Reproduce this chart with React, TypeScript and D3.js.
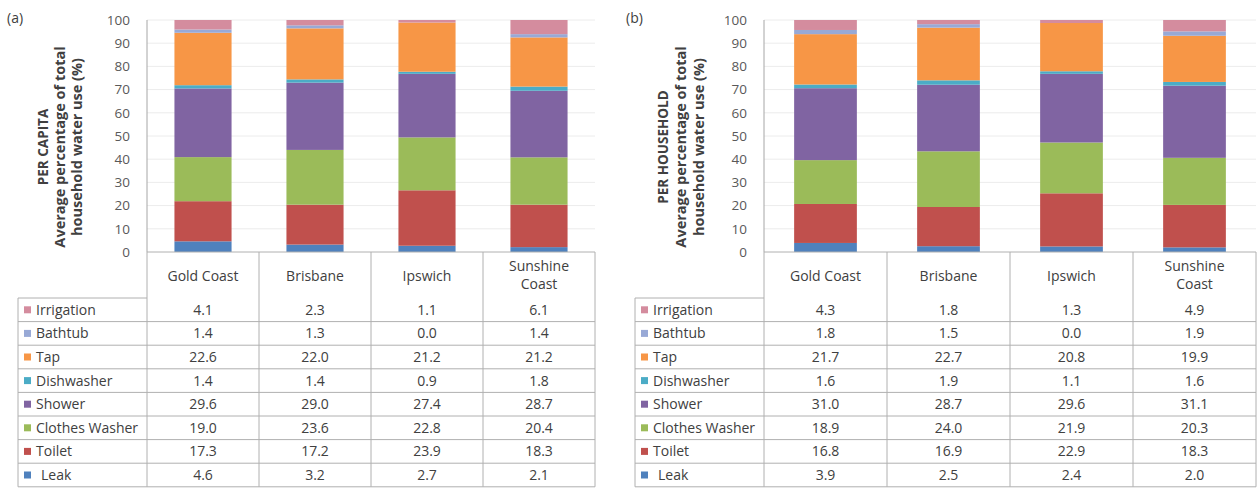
import { useEffect, useRef } from 'react'
import * as d3 from 'd3'

// table order, top to bottom (stack is drawn bottom-up, so reversed)
const seriesNames = ['Irrigation', 'Bathtub', 'Tap', 'Dishwasher', 'Shower', 'Clothes Washer', 'Toilet', 'Leak']
const seriesColors = ['#d48c9e', '#98a9d6', '#f79646', '#4bacc6', '#8064a2', '#9bbb59', '#c0504d', '#4f81bd']
const categories = ['Gold Coast', 'Brisbane', 'Ipswich', 'Sunshine Coast']
const yTicks = [0, 10, 20, 30, 40, 50, 60, 70, 80, 90, 100]

// rows follow seriesNames, columns follow categories
const perCapita = [
  [4.1, 2.3, 1.1, 6.1],
  [1.4, 1.3, 0.0, 1.4],
  [22.6, 22.0, 21.2, 21.2],
  [1.4, 1.4, 0.9, 1.8],
  [29.6, 29.0, 27.4, 28.7],
  [19.0, 23.6, 22.8, 20.4],
  [17.3, 17.2, 23.9, 18.3],
  [4.6, 3.2, 2.7, 2.1],
]

const perHousehold = [
  [4.3, 1.8, 1.3, 4.9],
  [1.8, 1.5, 0.0, 1.9],
  [21.7, 22.7, 20.8, 19.9],
  [1.6, 1.9, 1.1, 1.6],
  [31.0, 28.7, 29.6, 31.1],
  [18.9, 24.0, 21.9, 20.3],
  [16.8, 16.9, 22.9, 18.3],
  [3.9, 2.5, 2.4, 2.0],
]

const FONT = '"Open Sans", Lato, sans-serif'

interface PanelOpts {
  tag: string
  title: string[]
  values: number[][]
  left: number // table label column left edge
  plotLeft: number
  plotRight: number
  tagX: number
  titleX: number[]
}

function drawPanel(svg: d3.Selection<SVGSVGElement, unknown, null, undefined>, o: PanelOpts) {
  const top = 20
  const bottom = 252
  const rowTop = 298
  const rowH = 23.6
  const tableBottom = rowTop + rowH * seriesNames.length
  const textColor = '#404040'

  const g = svg.append('g')

  const y = d3.scaleLinear().domain([0, 100]).range([bottom, top])
  const cols = d3.scaleBand<string>().domain(categories).range([o.plotLeft, o.plotRight])
  const x = d3
    .scaleBand<string>()
    .domain(categories)
    .range([o.plotLeft, o.plotRight])
    .paddingInner(0.49)
    .paddingOuter(0.245)

  // gridlines
  g.append('g')
    .selectAll('line')
    .data(yTicks.slice(1))
    .join('line')
    .attr('x1', o.plotLeft)
    .attr('x2', o.plotRight)
    .attr('y1', d => y(d))
    .attr('y2', d => y(d))
    .attr('stroke', '#ececec')

  g.append('line')
    .attr('x1', o.plotLeft).attr('x2', o.plotLeft)
    .attr('y1', top).attr('y2', bottom)
    .attr('stroke', '#a6a6a6')

  g.append('g')
    .selectAll('text')
    .data(yTicks)
    .join('text')
    .attr('x', o.plotLeft - 17)
    .attr('y', d => y(d))
    .attr('dy', '0.35em')
    .attr('text-anchor', 'end')
    .attr('font-size', 13.5)
    .attr('fill', '#595959')
    .text(d => d)

  // stacked bars
  const keys = [...seriesNames].reverse()
  const rows = categories.map((c, ci) => {
    const r: Record<string, number | string> = { cat: c }
    seriesNames.forEach((s, si) => (r[s] = o.values[si][ci]))
    return r
  })
  const stacked = d3.stack<Record<string, number | string>>().keys(keys)(rows)

  g.append('g')
    .selectAll('g')
    .data(stacked)
    .join('g')
    .attr('fill', d => seriesColors[seriesNames.indexOf(d.key)])
    .selectAll('rect')
    .data(d => d)
    .join('rect')
    .attr('x', d => x(d.data.cat as string) ?? 0)
    .attr('width', x.bandwidth())
    .attr('y', d => y(d[1]))
    .attr('height', d => y(d[0]) - y(d[1]))

  // data table
  const lineColor = '#b0b0b0'
  g.append('line')
    .attr('x1', o.plotLeft).attr('x2', o.plotRight)
    .attr('y1', bottom).attr('y2', bottom)
    .attr('stroke', lineColor)

  const colEdges = [...categories.map(c => cols(c) ?? 0), o.plotRight]
  g.append('g')
    .selectAll('line')
    .data(colEdges)
    .join('line')
    .attr('x1', d => d).attr('x2', d => d)
    .attr('y1', bottom).attr('y2', tableBottom)
    .attr('stroke', lineColor)

  g.append('line')
    .attr('x1', o.left).attr('x2', o.left)
    .attr('y1', rowTop).attr('y2', tableBottom)
    .attr('stroke', lineColor)
  g.append('line')
    .attr('x1', o.left).attr('x2', o.plotLeft)
    .attr('y1', rowTop).attr('y2', rowTop)
    .attr('stroke', lineColor)

  g.append('g')
    .selectAll('line')
    .data(d3.range(1, seriesNames.length + 1))
    .join('line')
    .attr('x1', o.left).attr('x2', o.plotRight)
    .attr('y1', i => rowTop + i * rowH).attr('y2', i => rowTop + i * rowH)
    .attr('stroke', lineColor)

  // header
  const head = g.append('g')
    .selectAll('text')
    .data(categories)
    .join('text')
    .attr('text-anchor', 'middle')
    .attr('font-size', 14)
    .attr('fill', textColor)
  head.each(function (c) {
    const t = d3.select(this)
    const words = c === 'Sunshine Coast' ? ['Sunshine', 'Coast'] : [c]
    words.forEach((w, i) => {
      t.append('tspan')
        .attr('x', (cols(c) ?? 0) + cols.bandwidth() / 2)
        .attr('y', words.length > 1 ? 266 + i * 18.5 : 276)
        .attr('dy', '0.35em')
        .text(w)
    })
  })

  // rows
  seriesNames.forEach((s, si) => {
    const cy = rowTop + si * rowH + rowH / 2
    g.append('rect')
      .attr('x', o.left + 6).attr('y', cy - 3.5)
      .attr('width', 7).attr('height', 7)
      .attr('fill', seriesColors[si])
    g.append('text')
      .attr('x', o.left + (s === 'Leak' ? 23 : 18))
      .attr('y', cy)
      .attr('dy', '0.35em')
      .attr('font-size', 14)
      .attr('fill', textColor)
      .text(s)
    g.append('g')
      .selectAll('text')
      .data(categories)
      .join('text')
      .attr('x', c => (cols(c) ?? 0) + cols.bandwidth() / 2)
      .attr('y', cy)
      .attr('dy', '0.35em')
      .attr('text-anchor', 'middle')
      .attr('font-size', 14)
      .attr('fill', textColor)
      .text((_, ci) => d3.format('.1f')(o.values[si][ci]))
  })

  // panel tag and axis title
  g.append('text')
    .attr('x', o.tagX).attr('y', 18)
    .attr('dy', '0.35em')
    .attr('font-size', 14)
    .attr('fill', textColor)
    .text(o.tag)

  o.title.forEach((t, i) => {
    g.append('text')
      .attr('transform', `translate(${o.titleX[i]},147) rotate(-90)`)
      .attr('dy', '0.35em')
      .attr('text-anchor', 'middle')
      .attr('font-size', i === 0 ? 13.5 : 14.5)
      .attr('font-weight', 'bold')
      .attr('fill', textColor)
      .text(t)
  })
}

export default function App() {
  const svgRef = useRef<SVGSVGElement | null>(null)

  useEffect(() => {
    if (!svgRef.current) return
    const svg = d3.select(svgRef.current)
    svg.selectAll('*').remove()
    svg.attr('font-family', FONT)

    drawPanel(svg, {
      tag: '(a)',
      title: ['PER CAPITA', 'Average percentage of total', 'household water use (%)'],
      values: perCapita,
      left: 18,
      plotLeft: 147,
      plotRight: 595,
      tagX: 7,
      titleX: [43, 60, 77],
    })
    drawPanel(svg, {
      tag: '(b)',
      title: ['PER HOUSEHOLD', 'Average percentage of total', 'household water use (%)'],
      values: perHousehold,
      left: 635,
      plotLeft: 764,
      plotRight: 1256,
      tagX: 626,
      titleX: [663, 681, 699],
    })
  }, [])

  return (
    <svg
      ref={svgRef}
      width={1259}
      height={488}
      style={{ position: 'absolute', left: 0, top: 0, background: '#fff' }}
    />
  )
}
